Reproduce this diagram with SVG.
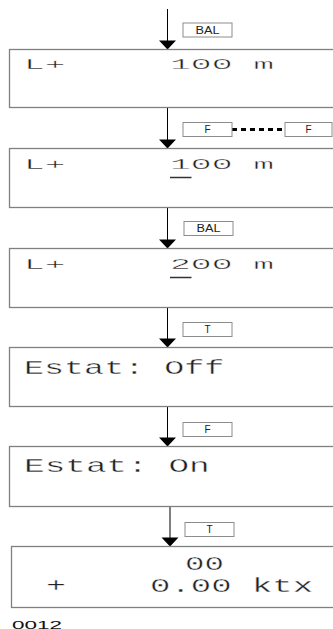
<svg xmlns="http://www.w3.org/2000/svg" xmlns:xlink="http://www.w3.org/1999/xlink" width="333" height="629" viewBox="0 0 333 629">
  <style>
    .screen { fill: #fff; stroke: #808080; stroke-width: 1.3; }
    /* wide LCD lettering: glyphs are stretched by the group transform,
       a thin white outline keeps the strokes light */
    .lcd { font-family: "Liberation Mono", "Courier New", monospace; fill: #222; stroke: #fff; stroke-width: 0.35; }
    .small { font-size: 14px; }
    .big { font-size: 20px; }
    .key rect { fill: #fff; stroke: #8c8c8c; stroke-width: 1; }
    .key text { font-family: "Liberation Sans", Arial, sans-serif; font-size: 10px; fill: #222; text-anchor: middle; }
    .flow { stroke: #000; stroke-width: 1; fill: none; }
    .cursor { stroke: #333; stroke-width: 1.5; }
  </style>
  <defs>
    <!-- downward arrow tip, drawn with its point at the origin -->
    <path id="tip" d="M-8.5,-9 L8.5,-9 L0,0 z" fill="#000"/>
  </defs>

  <!-- flow arrows between display states -->
  <g id="connectors">
    <line class="flow" x1="167.5" y1="9" x2="167.5" y2="41"/>
    <use xlink:href="#tip" x="167.5" y="49.5"/>
    <line class="flow" x1="167.5" y1="108" x2="167.5" y2="140"/>
    <use xlink:href="#tip" x="167.5" y="148.5"/>
    <line class="flow" x1="167.5" y1="208" x2="167.5" y2="240"/>
    <use xlink:href="#tip" x="167.5" y="248.5"/>
    <line class="flow" x1="167.5" y1="308" x2="167.5" y2="339"/>
    <use xlink:href="#tip" x="167.5" y="347.5"/>
    <line class="flow" x1="167.5" y1="407" x2="167.5" y2="438"/>
    <use xlink:href="#tip" x="167.5" y="446.5"/>
    <line class="flow" x1="170" y1="507" x2="170" y2="538"/>
    <use xlink:href="#tip" x="170" y="546.5"/>
    <!-- hold link between the two F keys -->
    <line x1="232" y1="129.5" x2="285" y2="129.5" stroke="#000" stroke-width="3" stroke-dasharray="5,4"/>
  </g>

  <!-- key presses -->
  <g id="key-bal-1" class="key"><rect x="183" y="23" width="49" height="14"/><text x="207.5" y="33.5" textLength="24" lengthAdjust="spacingAndGlyphs">BAL</text></g>
  <g id="key-f-1" class="key"><rect x="183" y="122.5" width="49" height="14"/><text x="207.5" y="133">F</text></g>
  <g id="key-f-2" class="key"><rect x="285" y="122.5" width="47" height="14"/><text x="308.5" y="133">F</text></g>
  <g id="key-bal-2" class="key"><rect x="184" y="221.5" width="49" height="14"/><text x="208.5" y="232" textLength="24" lengthAdjust="spacingAndGlyphs">BAL</text></g>
  <g id="key-t-1" class="key"><rect x="183" y="322.5" width="49" height="14"/><text x="207.5" y="333">T</text></g>
  <g id="key-f-3" class="key"><rect x="183" y="422.5" width="49" height="14"/><text x="207.5" y="433">F</text></g>
  <g id="key-t-2" class="key"><rect x="185" y="522.5" width="49" height="14"/><text x="209.5" y="533">T</text></g>

  <!-- display screens -->
  <g id="screen-1">
    <rect class="screen" x="9.5" y="49.5" width="335" height="58"/>
    <text class="lcd small" transform="translate(24,69) scale(2.48,1)">L+</text>
    <text class="lcd small" transform="translate(170,69) scale(2.48,1)">100 m</text>
  </g>
  <g id="screen-2">
    <rect class="screen" x="9.5" y="148.5" width="335" height="59"/>
    <text class="lcd small" transform="translate(24,169) scale(2.48,1)">L+</text>
    <text class="lcd small" transform="translate(170,169) scale(2.48,1)">100 m</text>
    <line class="cursor" x1="170" y1="177.5" x2="191.5" y2="177.5"/>
  </g>
  <g id="screen-3">
    <rect class="screen" x="9.5" y="248.5" width="335" height="59"/>
    <text class="lcd small" transform="translate(24,269) scale(2.48,1)">L+</text>
    <text class="lcd small" transform="translate(170,269) scale(2.48,1)">200 m</text>
    <line class="cursor" x1="170" y1="277.5" x2="191.5" y2="277.5"/>
  </g>
  <g id="screen-4">
    <rect class="screen" x="9.5" y="347.5" width="335" height="59"/>
    <text class="lcd big" transform="translate(24,373.5) scale(1.67,1)">Estat: Off</text>
  </g>
  <g id="screen-5">
    <rect class="screen" x="9.5" y="446.5" width="335" height="60"/>
    <text class="lcd big" transform="translate(24,472) scale(1.72,1)">Estat: On</text>
  </g>
  <g id="screen-6">
    <rect class="screen" x="11.5" y="546.5" width="335" height="61"/>
    <text class="lcd big" transform="translate(185,570) scale(1.62,1)">00</text>
    <text class="lcd big" transform="translate(46,592) scale(1.67,1)">+</text>
    <text class="lcd big" transform="translate(150,592) scale(1.7,1)">0.00 ktx</text>
  </g>

  <!-- figure number -->
  <text x="12" y="628.5" font-family="Liberation Sans, Arial, sans-serif" font-size="11.5" fill="#111" textLength="50" lengthAdjust="spacingAndGlyphs">0012</text>
</svg>
